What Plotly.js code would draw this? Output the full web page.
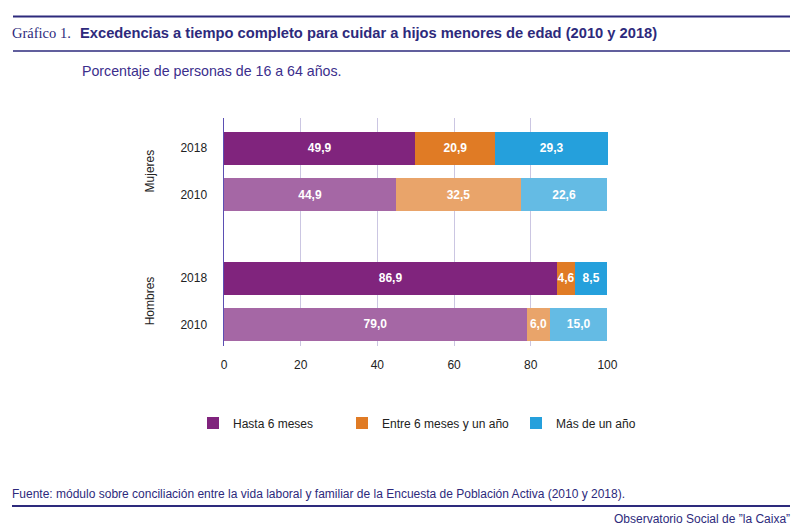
<!DOCTYPE html>
<html>
<head>
<meta charset="utf-8">
<script src="https://cdn.plot.ly/plotly-3.0.1.min.js"></script>
<style>
html,body{margin:0;padding:0;background:#fff;}
#chart{width:800px;height:531px;}
</style>
</head>
<body>
<div id="chart"></div>
<script>
// ---- Data ----
var groups = ["Mujeres", "Mujeres", "Hombres", "Hombres"];
var years = ["2018", "2010", "2018", "2010"];
var hasta6 = [49.9, 44.9, 86.9, 79.0];
var entre6y1 = [20.9, 32.5, 4.6, 6.0];
var masDe1 = [29.3, 22.6, 8.5, 15.0];
var seriesNames = ["Hasta 6 meses", "Entre 6 meses y un año", "Más de un año"];
var xTicks = [0, 20, 40, 60, 80, 100];

// ---- Styling / layout helpers ----
var rowPos = [3.81, 2.81, 1, 0];
var darkCols = ["#80247D", "#E07B25", "#25A0DC"];
var lightCols = ["#A567A5", "#E9A46A", "#64BBE4"];
var navy = "#2D2A7C";
var font = "Liberation Sans, Arial, sans-serif";
var legendIds = ["legend", "legend2", "legend3"];
var legendLeftPx = [193, 342, 516];

var L = 224, R = 608, T = 118, B = 346;
function px2x(p){ return (p - L) / (R - L); }
function py2y(p){ return (B - p) / (B - T); }

var seriesVals = [hasta6, entre6y1, masDe1];
var traces = seriesVals.map(function(vals, i){
  return {
    type: "bar",
    orientation: "h",
    name: seriesNames[i],
    legend: legendIds[i],
    x: vals,
    y: rowPos,
    width: 0.71,
    marker: {
      color: years.map(function(yr){ return yr === "2018" ? darkCols[i] : lightCols[i]; }),
      line: {width: 0}
    },
    texttemplate: "%{x:.1f}",
    textposition: "inside",
    insidetextanchor: "middle",
    textangle: 0,
    textfont: {family: font, size: 12, color: "#ffffff", weight: "bold"},
    hoverinfo: "skip",
    cliponaxis: false
  };
});

var annotations = [
  {xref:"paper", yref:"paper", x: px2x(10), y: py2y(33), xanchor:"left", yanchor:"middle",
   text:"<span style='font-family:Liberation Serif, serif;font-size:14.5px'>Gráfico 1.</span>",
   showarrow:false, font:{color:navy, size:14}},
  {xref:"paper", yref:"paper", x: px2x(78), y: py2y(33), xanchor:"left", yanchor:"middle",
   text:"<b>Excedencias a tiempo completo para cuidar a hijos menores de edad (2010 y 2018)</b>",
   showarrow:false, font:{family:font, color:navy, size:14.7}},
  {xref:"paper", yref:"paper", x: px2x(80), y: py2y(71), xanchor:"left", yanchor:"middle",
   text:"Porcentaje de personas de 16 a 64 años.",
   showarrow:false, font:{family:font, color:"#3B2E8C", size:14.2}},
  {xref:"paper", yref:"paper", x: px2x(10), y: py2y(494), xanchor:"left", yanchor:"middle",
   text:"Fuente: módulo sobre conciliación entre la vida laboral y familiar de la Encuesta de Población Activa (2010 y 2018).",
   showarrow:false, font:{family:font, color:navy, size:12}},
  {xref:"paper", yref:"paper", x: px2x(792), y: py2y(519), xanchor:"right", yanchor:"middle",
   text:"Observatorio Social de ”la Caixa”",
   showarrow:false, font:{family:font, color:navy, size:12}},
  {xref:"paper", yref:"y", x: px2x(150), y: (rowPos[0] + rowPos[1]) / 2, xanchor:"center", yanchor:"middle",
   text: groups[0], textangle:-90, showarrow:false, font:{family:font, color:"#222", size:12}},
  {xref:"paper", yref:"y", x: px2x(150), y: (rowPos[2] + rowPos[3]) / 2, xanchor:"center", yanchor:"middle",
   text: groups[2], textangle:-90, showarrow:false, font:{family:font, color:"#222", size:12}}
];

var shapes = [
  {type:"line", xref:"paper", yref:"paper", x0:px2x(13), x1:px2x(790), y0:py2y(16.5), y1:py2y(16.5), line:{color:navy, width:2}},
  {type:"line", xref:"paper", yref:"paper", x0:px2x(13), x1:px2x(790), y0:py2y(51), y1:py2y(51), line:{color:navy, width:1.5}},
  {type:"line", xref:"paper", yref:"paper", x0:px2x(12), x1:px2x(790), y0:py2y(506), y1:py2y(506), line:{color:navy, width:2}}
];

var layout = {
  width: 800, height: 531,
  margin: {l: L, r: 800 - R, t: T, b: 531 - B, pad: 0},
  paper_bgcolor: "#ffffff",
  plot_bgcolor: "#ffffff",
  barmode: "stack",
  separators: ",.",
  showlegend: true,
  uniformtext: {mode: "show", minsize: 12},
  xaxis: {
    range: [0, 100.15],
    tickvals: xTicks,
    ticktext: xTicks.map(String),
    showgrid: true, gridcolor: "#CBC6E2", gridwidth: 1,
    zeroline: false,
    showline: false,
    ticks: "outside", ticklen: 8, tickcolor: "rgba(0,0,0,0)",
    tickfont: {family: font, size: 12, color: "#222"},
    fixedrange: true
  },
  yaxis: {
    range: [-0.465, 4.465],
    tickvals: rowPos,
    ticktext: years,
    showgrid: false,
    zeroline: false,
    showline: true, linecolor: "#5B4FB3", linewidth: 1.5,
    ticks: "outside", ticklen: 13, tickcolor: "rgba(0,0,0,0)",
    tickfont: {family: font, size: 12, color: "#222"},
    fixedrange: true
  },
  annotations: annotations,
  shapes: shapes
};

legendIds.forEach(function(id, i){
  layout[id] = {
    orientation: "h",
    x: px2x(legendLeftPx[i]), xanchor: "left",
    y: py2y(423), yanchor: "middle",
    font: {family: font, size: 12, color: "#222"},
    bgcolor: "rgba(0,0,0,0)"
  };
});

Plotly.newPlot("chart", traces, layout, {displayModeBar: false, staticPlot: true});
</script>
</body>
</html>
